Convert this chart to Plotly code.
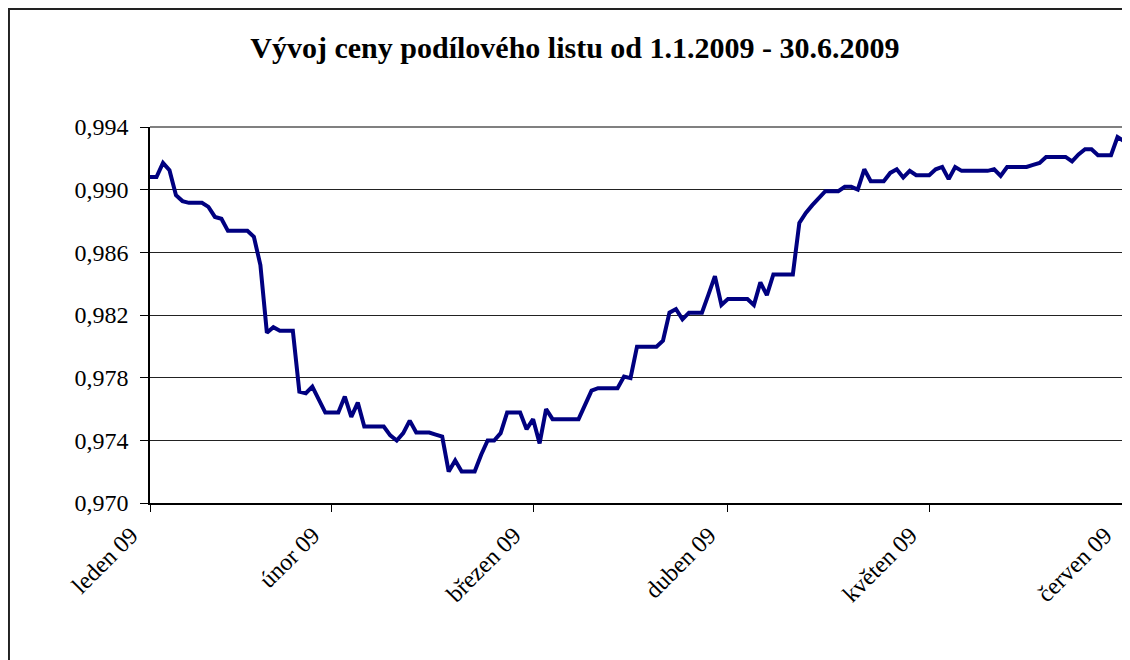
import pandas as pd
import plotly.graph_objects as go

# ── Data ──────────────────────────────────────────────────────────────────────
dny = pd.date_range("2009-01-31", "2009-06-30", freq="D")

cena = [
    0.99081, 0.99081, 0.99171, 0.99124, 0.98965, 0.98927, 0.98916, 0.98916,
    0.98916, 0.98890, 0.98826, 0.98814, 0.98737, 0.98737, 0.98737, 0.98737,
    0.98699, 0.98519, 0.98087, 0.98122, 0.98100, 0.98100, 0.98100, 0.97711,
    0.97701, 0.97743, 0.97658, 0.97577, 0.97577, 0.97577, 0.97679, 0.97550,
    0.97641, 0.97488, 0.97488, 0.97488, 0.97488, 0.97432, 0.97399, 0.97446,
    0.97526, 0.97450, 0.97450, 0.97450, 0.97437, 0.97424, 0.97201, 0.97271,
    0.97201, 0.97201, 0.97201, 0.97308, 0.97399, 0.97399, 0.97446, 0.97577,
    0.97577, 0.97577, 0.97471, 0.97535, 0.97380, 0.97599, 0.97535, 0.97535,
    0.97535, 0.97535, 0.97535, 0.97626, 0.97717, 0.97733, 0.97733, 0.97733,
    0.97733, 0.97807, 0.97797, 0.97998, 0.97998, 0.97998, 0.97998, 0.98036,
    0.98215, 0.98238, 0.98172, 0.98215, 0.98215, 0.98215, 0.98330, 0.98448,
    0.98264, 0.98302, 0.98302, 0.98302, 0.98302, 0.98264, 0.98408, 0.98327,
    0.98459, 0.98459, 0.98459, 0.98459, 0.98788, 0.98852, 0.98901, 0.98950,
    0.98990, 0.98990, 0.98990, 0.99018, 0.99018, 0.99001, 0.99130, 0.99054,
    0.99054, 0.99054, 0.99107, 0.99130, 0.99078, 0.99120, 0.99092, 0.99092,
    0.99092, 0.99130, 0.99145, 0.99067, 0.99145, 0.99120, 0.99120, 0.99120,
    0.99120, 0.99120, 0.99130, 0.99088, 0.99145, 0.99145, 0.99145, 0.99145,
    0.99158, 0.99171, 0.99209, 0.99209, 0.99209, 0.99209, 0.99181, 0.99225,
    0.99258, 0.99258, 0.99220, 0.99220, 0.99220, 0.99336, 0.99309,
]

mesice = ["2009-01-31", "2009-02-28", "2009-03-31",
          "2009-04-30", "2009-05-31", "2009-06-30"]
mesice_text = ["leden 09", "únor 09", "březen 09",
               "duben 09", "květen 09", "červen 09"]

y_ticks = [0.970, 0.974, 0.978, 0.982, 0.986, 0.990, 0.994]
y_text = [f"{v:.3f}".replace(".", ",") for v in y_ticks]

# ── Graf ──────────────────────────────────────────────────────────────────────
font = "Liberation Serif, Times New Roman, serif"

fig = go.Figure()
fig.add_trace(go.Scatter(
    x=dny, y=cena, mode="lines",
    line=dict(color="#000080", width=4),
    showlegend=False, hoverinfo="x+y"
))

# stranka ma okraj 8 px, proto je obrazek o 8 px mensi/posunuty
fig.update_layout(
    width=1122, height=652,
    paper_bgcolor="white", plot_bgcolor="white",
    margin=dict(l=142, r=6, t=119, b=157),
    font=dict(family=font, size=24, color="black"),
    title=dict(
        text="<b>Vývoj ceny podílového listu od 1.1.2009 - 30.6.2009</b>",
        x=0.5053, y=0.9387, xanchor="center", yanchor="middle",
        font=dict(family=font, size=30, color="black")
    ),
    shapes=[
        # ramecek grafu
        dict(type="rect", xref="paper", yref="paper",
             x0=-0.1448, x1=1.03, y0=-0.45, y1=1.3138,
             line=dict(color="#222222", width=2), layer="below"),
        # horni a pravy okraj plochy
        dict(type="line", xref="paper", yref="paper",
             x0=0, x1=1, y0=1, y1=1,
             line=dict(color="#808080", width=2)),
        dict(type="line", xref="paper", yref="paper",
             x0=1, x1=1, y0=0, y1=1,
             line=dict(color="#808080", width=2)),
    ]
)

fig.update_xaxes(
    type="date",
    range=[mesice[0], mesice[-1]],
    tickmode="array", tickvals=mesice, ticktext=mesice_text,
    tickangle=-45, ticklabelshift=-19,
    showgrid=False, zeroline=False,
    showline=True, linecolor="black", linewidth=1.5,
    ticks="outside", ticklen=7, tickcolor="black", tickwidth=1,
    tickfont=dict(family=font, size=24, color="black")
)
fig.update_yaxes(
    range=[0.970, 0.994],
    tickmode="array", tickvals=y_ticks, ticktext=y_text,
    showgrid=True, gridcolor="#222222", gridwidth=1,
    zeroline=False,
    showline=True, linecolor="black", linewidth=1.5,
    ticks="outside", ticklen=8, tickcolor="black", tickwidth=1,
    ticklabelstandoff=7,
    tickfont=dict(family=font, size=24, color="black")
)

fig.write_html("out.html")
